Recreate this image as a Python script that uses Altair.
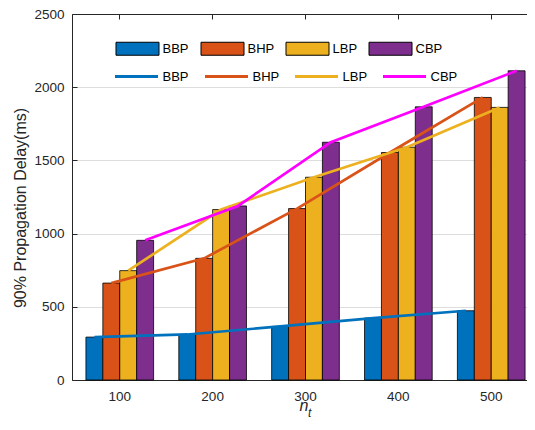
import altair as alt
import pandas as pd

groups = ["100", "200", "300", "400", "500"]
series = ["BBP", "BHP", "LBP", "CBP"]
bbp = [293, 311, 366, 423, 473]
bhp = [662, 831, 1171, 1554, 1930]
lbp = [747, 1164, 1385, 1590, 1862]
cbp = [954, 1189, 1624, 1866, 2112]
bar_colors = ["#0072BD", "#D95319", "#EDB120", "#7E2F8E"]
line_colors = ["#0072BD", "#D95319", "#EDB120", "#FF00FF"]
y_ticks = [0, 500, 1000, 1500, 2000, 2500]

rows = []
for s, vals in zip(series, [bbp, bhp, lbp, cbp]):
    for g, v in zip(groups, vals):
        rows.append({"n": g, "Bar": s, "Line": s, "value": v})
df = pd.DataFrame(rows)

FONT = "Liberation Sans"
AX = "#262626"
W, H = 455, 366

xscale = alt.Scale(domain=groups, range=[0, 467], paddingInner=0.2714, paddingOuter=0.15)
xoff_scale = alt.Scale(domain=series, paddingInner=0, paddingOuter=0)
yscale = alt.Scale(domain=[0, 2500], nice=False, zero=True)

base = alt.Chart(df)

bars = base.mark_bar(stroke="black", strokeWidth=0.8).encode(
    x=alt.X("n:N", scale=xscale, axis=alt.Axis(
        orient="bottom", domain=True, domainColor=AX, ticks=False,
        labelAngle=0, labelFont=FONT, labelFontSize=13.5, labelColor=AX, labelPadding=9,
        title="n", titleFont=FONT, titleFontSize=16, titleFontStyle="italic",
        titleFontWeight="normal", titleColor=AX, titleX=231.5, titleY=30.5,
        titleBaseline="alphabetic", titleAlign="center")),
    xOffset=alt.XOffset("Bar:N", scale=xoff_scale),
    y=alt.Y("value:Q", scale=yscale, axis=alt.Axis(
        orient="left", values=y_ticks, format="d", domain=True, domainColor=AX, ticks=False,
        labelFont=FONT, labelFontSize=13.5, labelColor=AX, labelPadding=8,
        title="90% Propagation Delay(ms)", titleFont=FONT, titleFontSize=16,
        titleFontWeight="normal", titleColor=AX, titleX=-47, titleY=193.5,
        titleBaseline="alphabetic", titleAngle=270, titleAlign="center")),
    fill=alt.Fill("Bar:N", scale=alt.Scale(domain=series, range=bar_colors), legend=alt.Legend(
        orient="none", legendX=43.5, legendY=12.5, direction="horizontal", columns=4,
        title=None, symbolType="M-1,-0.3023H1V0.3023H-1Z", symbolSize=1849,
        symbolStrokeColor="black", symbolStrokeWidth=1, symbolOpacity=1,
        labelFont=FONT, labelFontSize=13, labelColor="black", labelOffset=3,
        columnPadding=9, padding=0)),
)

lines = base.mark_line(strokeWidth=2.7).encode(
    x=alt.X("n:N", scale=xscale, axis=alt.Axis(
        orient="top", domain=True, domainColor=AX, ticks=False, labels=False, title=None)),
    xOffset=alt.XOffset("Bar:N", scale=xoff_scale),
    y=alt.Y("value:Q", scale=yscale, axis=alt.Axis(
        orient="left", values=y_ticks, offset=-5, domain=False, ticks=True, tickSize=5,
        tickColor=AX, labels=False, title=None)),
    stroke=alt.Stroke("Line:N", sort=series, scale=alt.Scale(range=line_colors), legend=alt.Legend(
        orient="none", legendX=41.5, legendY=39.5, direction="horizontal", columns=4,
        title=None, symbolType="stroke", symbolSize=1849, symbolStrokeWidth=3,
        labelFont=FONT, labelFontSize=13, labelColor="black", labelOffset=3,
        columnPadding=9, padding=0)),
)

top_ticks = base.mark_point(opacity=0).encode(
    x=alt.X("n:N", scale=xscale, axis=alt.Axis(
        orient="top", offset=-5, domain=False, ticks=True, tickSize=5, tickColor=AX,
        labels=False, title=None)),
    y=alt.Y("value:Q", scale=yscale, axis=None),
)

sub_t = alt.Chart(pd.DataFrame({"s": ["t"]})).mark_text(
    text="t", font=FONT, fontSize=12, fontStyle="italic", align="left",
    baseline="alphabetic", color=AX
).encode(x=alt.value(236), y=alt.value(403))

chart = alt.layer(bars, lines, top_ticks, sub_t).resolve_axis(
    x="independent", y="independent"
).properties(
    width=W, height=H,
    autosize=alt.AutoSizeParams(type="none"),
    padding={"left": 64, "top": 6, "right": 0, "bottom": 38},
).configure_view(stroke=None)

chart.save("out.html", embed_options={"renderer": "svg", "actions": False})
